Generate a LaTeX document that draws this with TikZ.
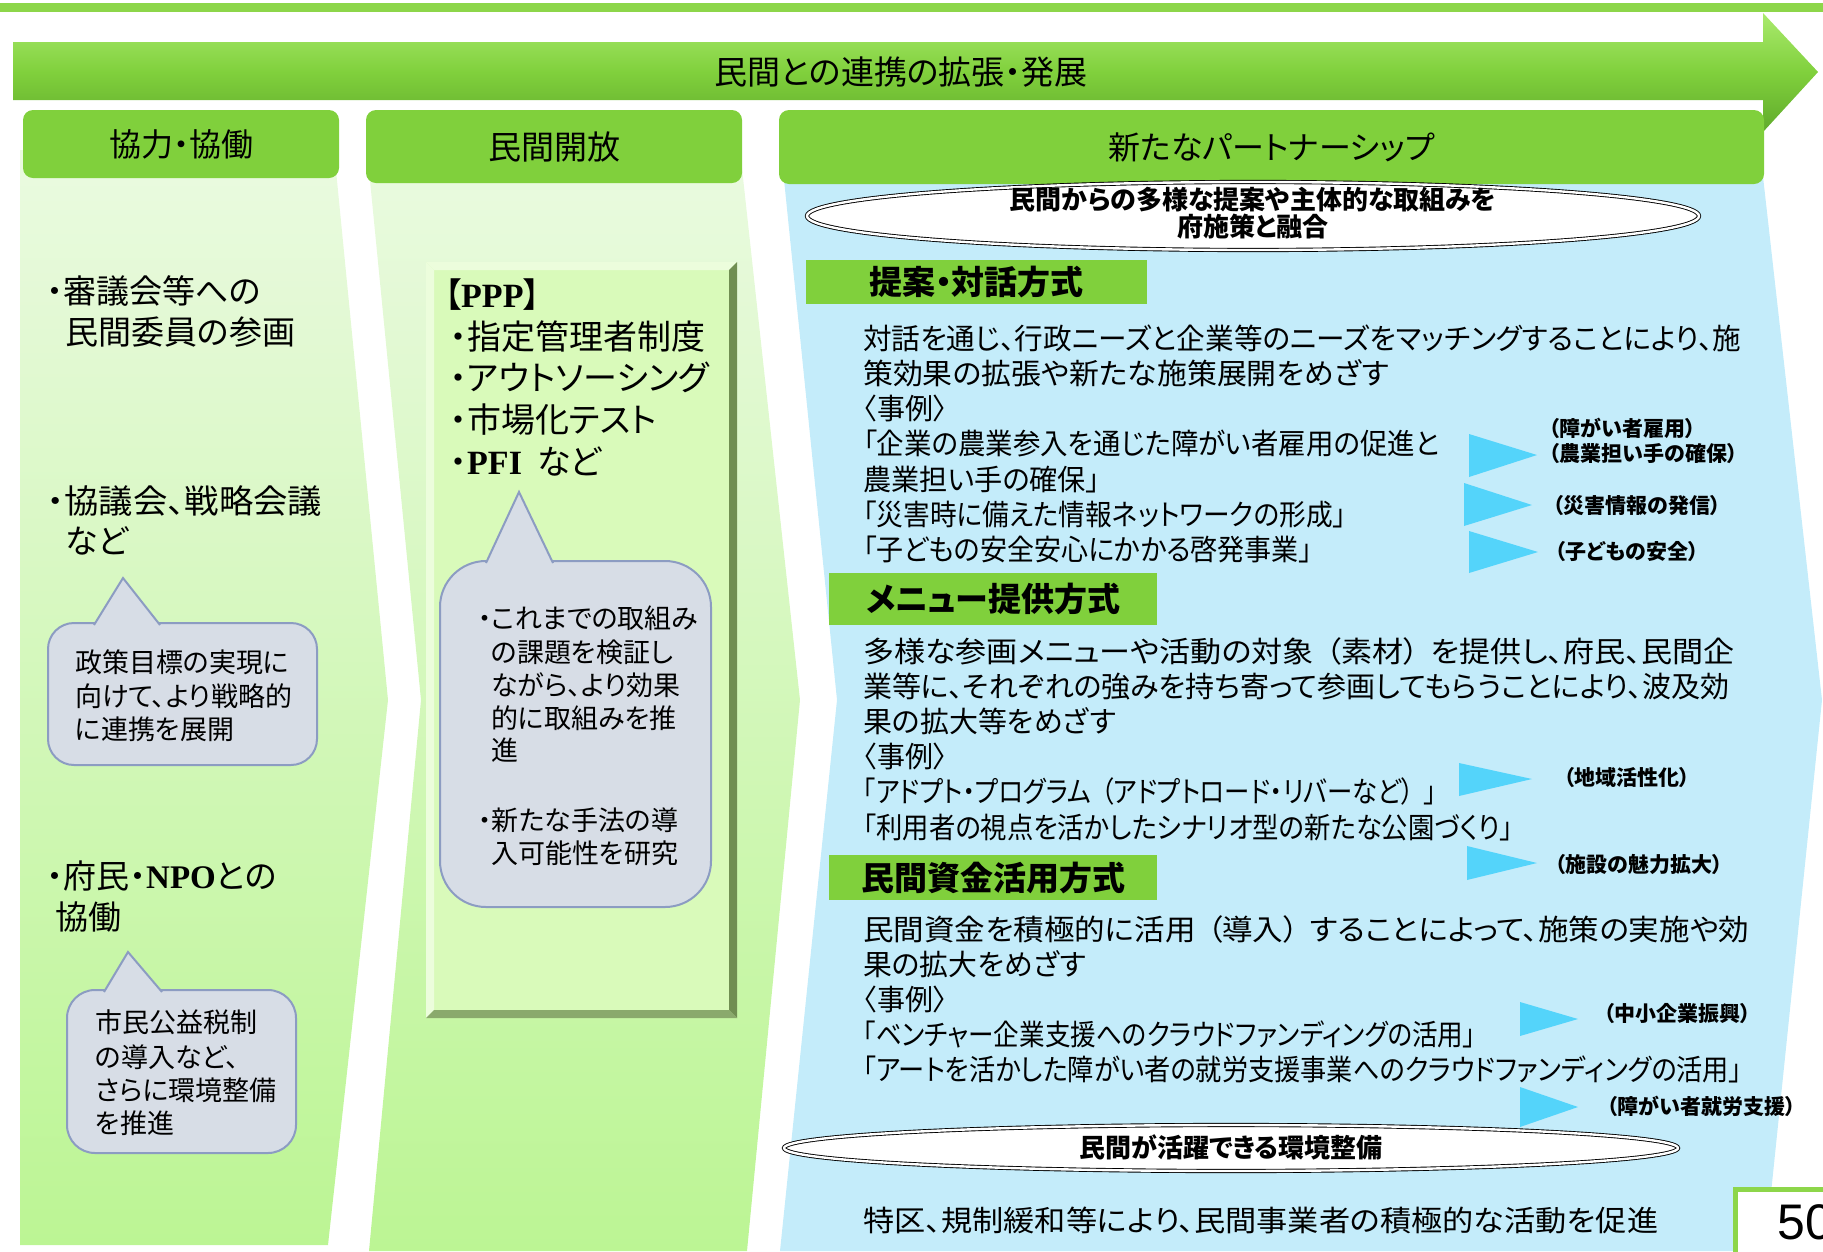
\documentclass[tikz,border=0pt]{standalone}
\usepackage{graphicx}
\usepackage{fontspec}
\setmainfont{Noto Sans CJK JP}[RawFeature=+palt]
\newfontfamily\latserif{Liberation Serif}
\newfontfamily\latsans{Liberation Sans}
\usetikzlibrary{positioning}

\definecolor{bandgreen}{RGB}{141,214,74}
\definecolor{hdrgreen}{RGB}{128,208,60}
\definecolor{arrowlight}{RGB}{170,234,110}
\definecolor{arrowdark}{RGB}{96,170,44}
\definecolor{colpale}{RGB}{234,250,224}
\definecolor{colgreen}{RGB}{188,245,148}
\definecolor{pppfill}{RGB}{217,250,186}
\definecolor{pppdark}{RGB}{112,142,82}
\definecolor{ppplight}{RGB}{236,253,220}
\definecolor{colblue}{RGB}{196,236,250}
\definecolor{calloutfill}{RGB}{215,221,230}
\definecolor{calloutline}{RGB}{140,156,194}
\definecolor{tricyan}{RGB}{84,212,250}

\newcommand{\fsz}[1]{\fontsize{#1}{#1}\selectfont}
% squeeze a line to the width it has in the slide
\newcommand{\fitw}[2]{\resizebox{#1pt}{\height}{#2}}
% gap beside full-width brackets
\newcommand{\pgap}{\hspace{11pt}}

\tikzset{
  txt/.style={anchor=west, inner sep=0pt},
  hdr/.style={fill=hdrgreen, rounded corners=10pt, inner sep=0pt},
  subhdr/.style={fill=hdrgreen, inner sep=0pt, font=\fsz{33}\bfseries, text height=29pt, text depth=4pt},
  big/.style={txt, font=\fsz{33}, text height=29pt, text depth=4pt},
  ppp/.style={txt, font=\fsz{34}, text height=30pt, text depth=4pt},
  bubble/.style={txt, font=\fsz{27}, text height=23.8pt, text depth=3.2pt},
  body/.style={txt, font=\fsz{29}, text height=25.5pt, text depth=3.5pt},
  tag/.style={txt, font=\fsz{21}\bfseries, text height=18.5pt, text depth=2.5pt},
  ovaltxt/.style={inner sep=0pt, font=\fsz{26}\bfseries, text height=22.9pt, text depth=3.1pt},
  callout/.style={fill=calloutfill, draw=calloutline, line width=2pt},
  oval/.style={draw=black, line width=0.9pt, double=white, double distance=2.4pt, fill=white},
  tri/.style={fill=tricyan}
}

\begin{document}
\begin{tikzpicture}[x=1pt, y=-1pt]
  \useasboundingbox (0,0) rectangle (1823,1251);

  % Top band
  \fill[bandgreen] (0,3) rectangle (1823,12);

  % Big arrow
  \shade[top color=arrowlight, bottom color=arrowdark, middle color=hdrgreen]
    (13,42) -- (1763,42) -- (1763,13) -- (1818,72) -- (1763,132) -- (1763,100) -- (13,100) -- cycle;
  \node[inner sep=0pt, font=\fsz{33}] (title) at (901,72) {民間との連携の拡張・発展};

  % Column bodies
  \shade[top color=colpale, bottom color=colgreen]
    (20,150) -- (334,150) -- (388,700) -- (328,1245) -- (20,1245) -- cycle;
  \shade[top color=colpale, bottom color=colgreen]
    (367,150) -- (740,150) -- (800,700) -- (747,1251) -- (369,1251) -- (421,700) -- cycle;
  \fill[colblue]
    (781,150) -- (1760,150) -- (1822,700) -- (1765,1251) -- (780,1251) -- (837,700) -- cycle;

  % Column headers
  \node[hdr, minimum width=316pt, minimum height=68pt, font=\fsz{32}] (hdrcoop) at (181,144) {協力・協働};
  \node[hdr, minimum width=376pt, minimum height=73pt, font=\fsz{33}] (hdropen) at (554,146.5) {民間開放};
  \node[hdr, minimum width=985pt, minimum height=74pt, font=\fsz{32}] (hdrpart) at (1271.5,147) {新たなパートナーシップ};

  % Column 1
  \node[big] (c1a) at (47,291) {・審議会等への};
  \node[big] (c1b) at (65,332) {民間委員の参画};
  \node[big] (c1c) at (47,501) {\fitw{275}{・協議会、戦略会議}};
  \node[big] (c1d) at (65,541) {など};
  \node[big] (c1e) at (47,876) {・府民・{\latserif\bfseries NPO}との};
  \node[big] (c1f) at (55,917) {協働};

  \draw[callout, rounded corners=26pt] (48,623) rectangle (317,765);
  \filldraw[callout] (94,625) -- (123,578) -- (160,625);
  \node[bubble] (b1a) at (75,662) {政策目標の実現に};
  \node[bubble] (b1b) at (75,696) {向けて、より戦略的};
  \node[bubble] (b1c) at (75,729) {に連携を展開};

  \draw[callout, rounded corners=28pt] (67,990) rectangle (296,1153);
  \filldraw[callout] (104,992) -- (128,952) -- (162,992);
  \node[bubble] (b2a) at (95,1022) {市民公益税制};
  \node[bubble] (b2b) at (95,1057) {の導入など、};
  \node[bubble] (b2c) at (95,1090) {さらに環境整備};
  \node[bubble] (b2d) at (95,1123) {を推進};

  % Column 2: PPP box
  \fill[pppfill] (426,262) rectangle (737,1018);
  \fill[ppplight] (426,262) -- (737,262) -- (729,270) -- (434,270) -- cycle;
  \fill[ppplight] (426,262) -- (434,270) -- (434,1010) -- (426,1018) -- cycle;
  \fill[pppdark] (737,262) -- (737,1018) -- (729,1010) -- (729,270) -- cycle;
  \fill[pppdark!75!pppfill] (426,1018) -- (737,1018) -- (729,1010) -- (434,1010) -- cycle;

  \node[ppp] (p1) at (444,294) {【{\latserif\bfseries PPP}】};
  \node[ppp] (p2) at (450,336) {・指定管理者制度};
  \node[ppp] (p3) at (450,377) {・アウトソーシング};
  \node[ppp] (p4) at (450,419) {・市場化テスト};
  \node[ppp] (p5) at (450,461) {・{\latserif\bfseries PFI}\hspace{15pt}など};

  \draw[callout, rounded corners=46pt] (440,561) rectangle (711,907);
  \filldraw[callout] (486,563) -- (519,492) -- (553,563);
  \node[bubble] (b3a) at (478,618) {・これまでの取組み};
  \node[bubble] (b3b) at (491,652) {の課題を検証し};
  \node[bubble] (b3c) at (491,685) {ながら、より効果};
  \node[bubble] (b3d) at (491,718) {的に取組みを推};
  \node[bubble] (b3e) at (491,750) {進};
  \node[bubble] (b3f) at (478,820) {・新たな手法の導};
  \node[bubble] (b3g) at (491,853) {入可能性を研究};

  % Column 3
  \draw[oval] (1253,216) ellipse [x radius=446, y radius=34];
  \node[ovaltxt] (e1a) at (1253,200) {民間からの多様な提案や主体的な取組みを};
  \node[ovaltxt] (e1b) at (1253,227) {府施策と融合};

  \node[subhdr, minimum width=341pt, minimum height=44pt] (hprop) at (976.5,282) {提案・対話方式};
  \foreach \w/\t [count=\i] in {878/対話を通じ、行政ニーズと企業等のニーズをマッチングすることにより、施,
      526/策効果の拡張や新たな施策展開をめざす, 84/〈事例〉,
      576/「企業の農業参入を通じた障がい者雇用の促進と, 237/農業担い手の確保」,
      483/「災害時に備えた情報ネットワークの形成」, 449/「子どもの安全安心にかかる啓発事業」}
    \node[body] (pa\i) at (863,{302.7+35.3*\i}) {\fitw{\w}{\t}};

  \node[subhdr, minimum width=328pt, minimum height=52pt] (hmenu) at (993,599) {メニュー提供方式};
  \foreach \w/\t [count=\i] in {871/多様な参画メニューや活動の対象\pgap（素材）\pgap を提供し、府民、民間企,
      866/業等に、それぞれの強みを持ち寄って参画してもらうことにより、波及効,
      253/果の拡大等をめざす, 84/〈事例〉,
      573/「アドプト・プログラム\pgap（アドプトロード・リバーなど）\pgap」,
      650/「利用者の視点を活かしたシナリオ型の新たな公園づくり」}
    \node[body] (pb\i) at (863,{615.8+35.2*\i}) {\fitw{\w}{\t}};

  \node[subhdr, minimum width=328pt, minimum height=45pt] (hfund) at (993,877.5) {民間資金活用方式};
  \foreach \w/\t [count=\i] in {886/民間資金を積極的に活用\pgap（導入）\pgap することによって、施策の実施や効,
      223/果の拡大をめざす, 84/〈事例〉,
      613/「ベンチャー企業支援へのクラウドファンディングの活用」,
      879/「アートを活かした障がい者の就労支援事業へのクラウドファンディングの活用」}
    \node[body] (pc\i) at (863,{895+34.8*\i}) {\fitw{\w}{\t}};

  % Pointers and tags
  \fill[tri] (1469,434) -- (1537,455) -- (1469,477) -- cycle;
  \fill[tri] (1464,483) -- (1532,505) -- (1464,526) -- cycle;
  \fill[tri] (1469,531) -- (1538,552) -- (1469,573) -- cycle;
  \fill[tri] (1459,763) -- (1532,779) -- (1459,796) -- cycle;
  \fill[tri] (1467,846) -- (1537,863) -- (1467,880) -- cycle;
  \fill[tri] (1520,1002) -- (1578,1019) -- (1520,1036) -- cycle;
  \fill[tri] (1520,1087) -- (1578,1107) -- (1520,1127) -- cycle;

  \node[tag] (t1) at (1549,428) {（障がい者雇用）};
  \node[tag] (t2) at (1549,453) {（農業担い手の確保）};
  \node[tag] (t3) at (1553,505) {（災害情報の発信）};
  \node[tag] (t4) at (1555,551) {（子どもの安全）};
  \node[tag] (t5) at (1564,777) {（地域活性化）};
  \node[tag] (t6) at (1555,864) {（施設の魅力拡大）};
  \node[tag] (t7) at (1604,1013) {（中小企業振興）};
  \node[tag] (t8) at (1607,1106) {（障がい者就労支援）};

  \draw[oval] (1231,1148) ellipse [x radius=447, y radius=23];
  \node[ovaltxt] (e2) at (1231,1148) {民間が活躍できる環境整備};

  \node[body] (last) at (863,1220) {\fitw{795}{特区、規制緩和等により、民間事業者の積極的な活動を促進}};

  % Page number
  \draw[bandgreen, line width=5pt, fill=white] (1735,1189) rectangle (1850,1270);
  \node[txt, font=\latsans\fsz{50}] (pgno) at (1777,1222) {50};
\end{tikzpicture}
\end{document}
